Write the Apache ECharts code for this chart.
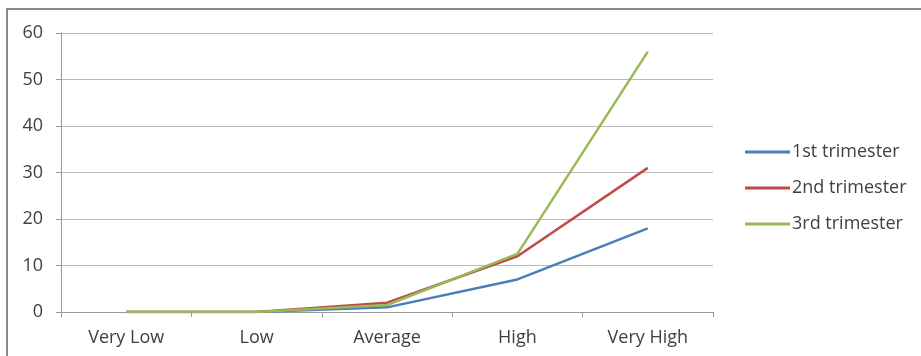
<!DOCTYPE html>
<html><head><meta charset="utf-8">
<script src="https://cdn.jsdelivr.net/npm/echarts@6/dist/echarts.min.js"></script>
<style>html,body{margin:0;padding:0;background:#fff}#c{width:921px;height:356px}</style>
</head><body><div id="c"></div>
<script>
const categories = ["Very Low", "Low", "Average", "High", "Very High"];
const seriesNames = ["1st trimester", "2nd trimester", "3rd trimester"];
const first = [0, 0, 1, 7, 18];
const second = [0, 0, 2, 12, 31];
const third = [0, 0, 1.5, 12.5, 56];
const yTicks = [0, 10, 20, 30, 40, 50, 60];

const colors = ["#4A7EBB", "#BE4B48", "#98B954"];
const font = "Open Sans";
const chart = echarts.init(document.getElementById('c'));
const values = [first, second, third];
chart.setOption({
  animation: false,
  color: colors,
  textStyle: {fontFamily: font},
  graphic: [{type: 'rect', shape: {x: 7, y: 9, width: 930, height: 360},
    style: {fill: 'none', stroke: '#8a8a8a', lineWidth: 2}, silent: true}],
  grid: {left: 61, right: 208, top: 33, bottom: 44, containLabel: false},
  legend: {
    orient: 'vertical', left: 740, top: 137, itemGap: 16,
    itemWidth: 45, itemHeight: 3, icon: 'rect',
    textStyle: {fontFamily: font, fontSize: 18, lineHeight: 20, color: '#404040', padding: [0,0,0,-3]},
    data: seriesNames
  },
  xAxis: {
    type: 'category', data: categories, boundaryGap: true,
    axisLine: {lineStyle: {color: '#9a9a9a', width: 1}},
    axisTick: {show: true, length: 5, inside: false, lineStyle: {color: '#9a9a9a'}},
    axisLabel: {fontFamily: font, fontSize: 18, color: '#404040', margin: 17}
  },
  yAxis: {
    type: 'value', min: yTicks[0], max: yTicks[yTicks.length - 1], interval: 10,
    axisLine: {show: true, lineStyle: {color: '#9a9a9a', width: 1}},
    axisTick: {show: true, length: 5, lineStyle: {color: '#9a9a9a'}},
    splitLine: {lineStyle: {color: '#b8b8b8', width: 1}},
    axisLabel: {fontFamily: font, fontSize: 18, color: '#404040', margin: 18}
  },
  series: seriesNames.map((n, i) => ({
    name: n, type: 'line', data: values[i], symbol: 'none',
    lineStyle: {width: 2.5, color: colors[i]}
  }))
});
</script></body></html>
